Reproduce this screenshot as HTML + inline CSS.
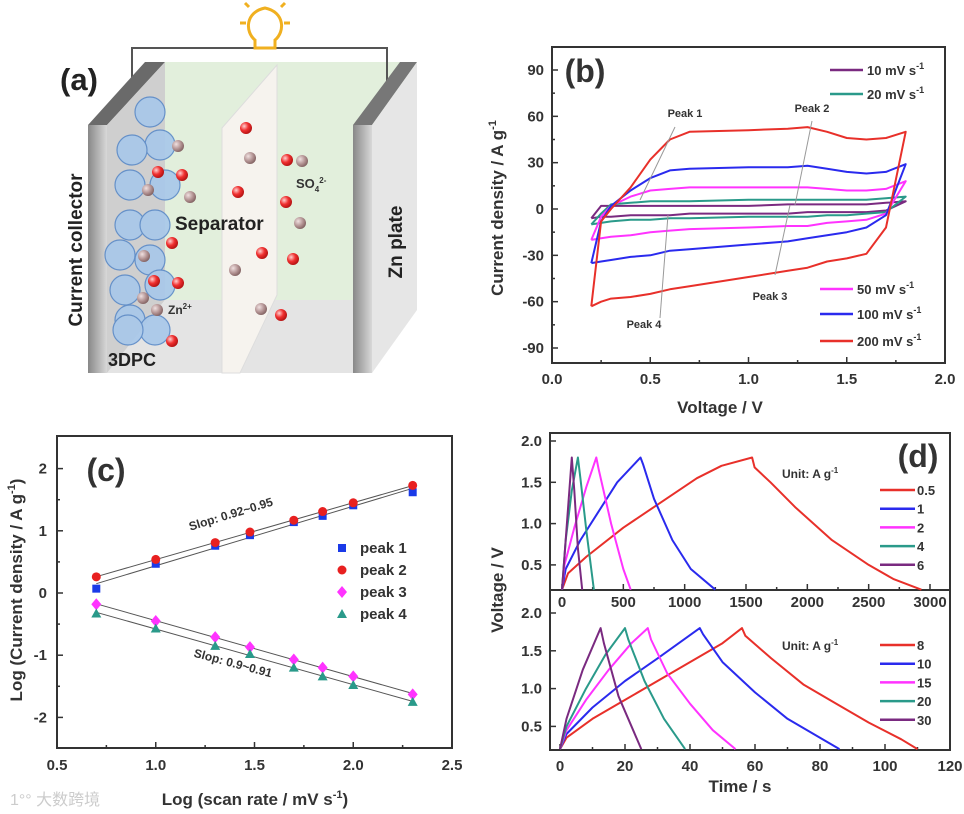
<!DOCTYPE html>
<html><head><meta charset="utf-8"><style>
html,body{margin:0;padding:0;background:#fff}
svg{display:block;font-family:"Liberation Sans","Noto Sans CJK SC",sans-serif}
.t{font-weight:bold;fill:#333}
</style></head><body>
<svg id="fig" width="964" height="814" viewBox="0 0 964 814">
<defs>
<radialGradient id="rb" cx="0.35" cy="0.35" r="0.7"><stop offset="0" stop-color="#ffd0d0"/><stop offset="0.5" stop-color="#f03030"/><stop offset="1" stop-color="#b01010"/></radialGradient>
<radialGradient id="gb" cx="0.35" cy="0.35" r="0.7"><stop offset="0" stop-color="#f0e0e0"/><stop offset="0.6" stop-color="#b09090"/><stop offset="1" stop-color="#806060"/></radialGradient>
<linearGradient id="plate" x1="0" x2="1"><stop offset="0" stop-color="#888"/><stop offset="1" stop-color="#d8d8d8"/></linearGradient>
</defs>
<g>
 <rect x="165" y="62" width="252" height="238" fill="#e2efdc"/>
 <polygon points="107,373 165,300 417,300 372,373" fill="#e4e4e4"/>
 <polyline points="132,90 132,48 387,48 387,90" fill="none" stroke="#555" stroke-width="2"/>
 <g stroke="#f0b020" stroke-width="3" fill="#fff">
  <path d="M255,48 L255,40 C245,32 245,12 265,8 C285,12 285,32 275,40 L275,48 Z"/>
  <line x1="240" y1="23" x2="246" y2="23"/><line x1="284" y1="23" x2="290" y2="23"/>
  <line x1="245" y1="3" x2="249" y2="7"/><line x1="285" y1="3" x2="281" y2="7"/>
 </g>
 <polygon points="88,125 145,62 165,62 107,125" fill="#6a6a6a"/>
 <rect x="88" y="125" width="19" height="248" fill="url(#plate)"/>
 <polygon points="107,125 165,62 165,300 107,373" fill="#cfcfcf"/>
 <polygon points="222,128 277,65 277,295 240,373 222,373" fill="#f6f3ee" stroke="#ddd"/>
 <polygon points="353,125 400,62 417,62 372,125" fill="#777"/>
 <polygon points="372,125 417,62 417,310 372,373" fill="#e6e6e6"/>
 <rect x="353" y="125" width="19" height="248" fill="url(#plate)"/>
 <g id="pc" fill="#a8c8ea" stroke="#5a8ac8" stroke-width="1.2" opacity="0.9"></g>
 <g id="ions"></g>
 <text x="60" y="90" font-size="31" font-weight="bold" fill="#222">(a)</text>
 <text transform="translate(82,250) rotate(-90)" text-anchor="middle" font-size="19" font-weight="bold" fill="#222">Current collector</text>
 <text x="175" y="230" font-size="19" font-weight="bold" fill="#222">Separator</text>
 <text transform="translate(402,242) rotate(-90)" text-anchor="middle" font-size="19" font-weight="bold" fill="#222">Zn plate</text>
 <text x="108" y="366" font-size="18" font-weight="bold" fill="#222">3DPC</text>
 <text x="168" y="314" font-size="12" font-weight="bold" fill="#333">Zn<tspan dy="-5" font-size="8">2+</tspan></text>
 <text x="296" y="188" font-size="13" font-weight="bold" fill="#333">SO<tspan dy="4" font-size="8">4</tspan><tspan dy="-9" font-size="8">2-</tspan></text>
</g>
<g id="pb"></g>
<g id="pcc"></g>
<g id="pd"></g>
<text x="10" y="805" font-size="16" fill="#ccc">1°° 大数跨境</text>
</svg>
<script>
// ---------- Panel (b) data ----------
const cvVolt=[0.2,0.25,0.3,0.4,0.5,0.6,0.7,1.0,1.2,1.3,1.4,1.5,1.6,1.7,1.8];
const cvRates=['10 mV s','20 mV s','50 mV s','100 mV s','200 mV s'];
const cvUp10=[-6,2,2,2,2,2,2,2,3,3,3,3,3,4,5];
const cvLo10=[-6,-5,-5,-4,-4,-4,-3,-3,-3,-2,-2,-2,-2,-1,5];
const cvUp20=[-10,-3,3,4,5,5,5,6,6,6,6,6,6,7,8];
const cvLo20=[-10,-9,-8,-7,-7,-6,-6,-5,-5,-5,-4,-4,-3,-2,8];
const cvUp50=[-20,-5,2,8,12,13,14,14,14,14,13,12,12,13,18];
const cvLo50=[-20,-19,-18,-17,-15,-14,-13,-12,-11,-11,-9,-8,-7,-3,18];
const cvUp100=[-35,-8,2,12,20,25,26,27,27,28,26,24,23,24,29];
const cvLo100=[-35,-34,-33,-31,-30,-27,-26,-23,-21,-19,-17,-15,-12,-4,29];
const cvUp200=[-63,-8,0,14,32,45,50,51,52,53,50,46,45,46,50];
const cvLo200=[-63,-60,-58,-57,-55,-52,-50,-44,-40,-38,-34,-32,-29,-12,50];
const bXTicks=[0,0.5,1.0,1.5,2.0];
const bYTicks=[-90,-60,-30,0,30,60,90];
// ---------- Panel (c) data ----------
const logRate=[0.699,1,1.301,1.477,1.699,1.845,2,2.301];
const peak1=[0.07,0.47,0.76,0.93,1.14,1.24,1.41,1.62];
const peak2=[0.26,0.54,0.81,0.98,1.17,1.31,1.45,1.73];
const peak3=[-0.18,-0.45,-0.71,-0.87,-1.07,-1.2,-1.34,-1.63];
const peak4=[-0.33,-0.57,-0.85,-0.98,-1.2,-1.34,-1.48,-1.75];
const cXTicks=[0.5,1.0,1.5,2.0,2.5];
const cYTicks=[-2,-1,0,1,2];
// ---------- Panel (d) data ----------
const dTopLabels=['0.5','1','2','4','6'];
const dTopT=[[0,50,200,500,800,1100,1300,1550,1570,1700,1900,2200,2500,2700,2930],[0,30,150,300,450,640,660,750,900,1050,1250],[0,20,100,200,280,300,400,500,560],[0,30,80,130,150,200,260],[0,40,80,100,130,165]];
const dTopV=[[0.2,0.4,0.6,0.95,1.25,1.55,1.7,1.8,1.68,1.5,1.2,0.8,0.5,0.33,0.2],[0.2,0.45,0.8,1.15,1.5,1.8,1.72,1.3,0.8,0.45,0.2],[0.2,0.5,0.95,1.45,1.8,1.65,1.0,0.45,0.2],[0.2,0.8,1.4,1.8,1.55,0.9,0.2],[0.2,1.0,1.8,1.4,0.7,0.2]];
const dBotLabels=['8','10','15','20','30'];
const dBotT=[[0,2,10,20,30,40,50,56,57,65,75,85,95,105,110],[0,2,10,20,30,43,44,50,60,70,80,86],[0,2,8,15,22,27,28,33,40,47,54],[0,2,8,14,20,21,26,32,38.5],[0,2,7,12.5,13.5,18,25]];
const dBotV=[[0.2,0.35,0.6,0.85,1.1,1.35,1.6,1.8,1.7,1.4,1.05,0.8,0.55,0.33,0.2],[0.2,0.4,0.75,1.1,1.4,1.8,1.72,1.35,0.95,0.6,0.35,0.2],[0.2,0.45,0.85,1.25,1.6,1.8,1.65,1.2,0.8,0.45,0.2],[0.2,0.5,1.0,1.45,1.8,1.65,1.1,0.6,0.2],[0.2,0.6,1.25,1.8,1.6,0.9,0.2]];
const dTopXTicks=[0,500,1000,1500,2000,2500,3000];
const dBotXTicks=[0,20,40,60,80,100,120];
const dYTicks=[0.5,1.0,1.5,2.0];

const NS='http://www.w3.org/2000/svg';
const COL=['#7a2a80','#2a9a8a','#ff33ff','#2a2aee','#e8302a'];
const DCOL=['#e8302a','#2a2aee','#ff33ff','#2a9a8a','#7a2a80'];
function mk(parent,tag,attrs){const e=document.createElementNS(NS,tag);for(const k in attrs)e.setAttribute(k,attrs[k]);parent.appendChild(e);return e;}
function txt(parent,x,y,s,size,anchor,name){const e=mk(parent,'text',{x:x,y:y,'font-size':size,'text-anchor':anchor||'middle','class':'t'});e.textContent=s;


return e;}
function frame(g,x0,y0,x1,y1,name){const r=mk(g,'rect',{x:x0,y:y0,width:x1-x0,height:y1-y0,fill:'none',stroke:'#333','stroke-width':2});

}
function tick(g,x1,y1,x2,y2){const l=mk(g,'line',{x1:x1,y1:y1,x2:x2,y2:y2,stroke:'#333','stroke-width':1.5});

}
function poly(g,pts,color,w,name){const p=mk(g,'polyline',{points:pts.map(p=>p[0].toFixed(1)+','+p[1].toFixed(1)).join(' '),fill:'none',stroke:color,'stroke-width':w,'stroke-linejoin':'round'});


return p;}

// ---- panel a decorations ----
(function(){
 const pc=document.getElementById('pc');
 const cs=[[150,112],[160,145],[132,150],[130,185],[165,185],[130,225],[155,225],[120,255],[150,260],[125,290],[160,285],[130,320],[155,330],[128,330]];
 cs.forEach(c=>{const e=mk(pc,'circle',{cx:c[0],cy:c[1],r:15});
  
  });
 const ions=document.getElementById('ions');
 const red=[[246,128],[158,172],[182,175],[238,192],[287,160],[286,202],[172,243],[262,253],[293,259],[154,281],[178,283],[281,315],[172,341]];
 const gry=[[178,146],[250,158],[302,161],[148,190],[190,197],[300,223],[144,256],[235,270],[143,298],[157,310],[261,309]];
 red.forEach(c=>{const e=mk(ions,'circle',{cx:c[0],cy:c[1],r:6,fill:'url(#rb)'});
  
  });
 gry.forEach(c=>{const e=mk(ions,'circle',{cx:c[0],cy:c[1],r:6,fill:'url(#gb)'});
  
  });
})();

// ---- panel b ----
(function(){
 const g=document.getElementById('pb');
 const X0=552,X1=945,Y0=47,Y1=363;
 const xs=v=>X0+v*196.5, ys=c=>209-c*(278/180);
 frame(g,X0,Y0,X1,Y1,'plot-frame-b');
 bXTicks.forEach(v=>{tick(g,xs(v),Y1,xs(v),Y1-6);txt(g,xs(v),384,v.toFixed(1),15,'middle','x-tick-label-b');});
 for(let v=0.25;v<2;v+=0.5)tick(g,xs(v),Y1,xs(v),Y1-3);
 bYTicks.forEach(c=>{tick(g,X0,ys(c),X0+6,ys(c));txt(g,X0-8,ys(c)+5,String(c),15,'end','y-tick-label-b');});
 for(let c=-75;c<=75;c+=30)tick(g,X0,ys(c),X0+3,ys(c));
 txt(g,720,413,'Voltage / V',17,'middle','x-axis-title-b');
 const yt=txt(g,0,0,'Current density / A g',17,'middle','y-axis-title-b');
 yt.setAttribute('transform','translate(503,208) rotate(-90)');
 const sp=mk(yt,'tspan',{dy:-7,'font-size':11});sp.textContent='-1';
 const ups=[cvUp10,cvUp20,cvUp50,cvUp100,cvUp200], los=[cvLo10,cvLo20,cvLo50,cvLo100,cvLo200];
 for(let s=0;s<5;s++){
  const pts=[];
  cvVolt.forEach((v,i)=>pts.push([xs(v),ys(ups[s][i])]));
  for(let i=cvVolt.length-1;i>=0;i--)pts.push([xs(cvVolt[i]),ys(los[s][i])]);
  poly(g,pts,COL[s],2,'cv-curve-'+cvRates[s].split(' ')[0]);
 }
 // annotations
 const ann=[[675,127,640,200],[660,318,668,215],[812,121,795,205],[775,275,790,205]];
 ann.forEach(a=>{const l=mk(g,'line',{x1:a[0],y1:a[1],x2:a[2],y2:a[3],stroke:'#999','stroke-width':1});
  
  });
 txt(g,685,117,'Peak 1',11,'middle','peak-1-label');
 txt(g,812,112,'Peak 2',11,'middle','peak-2-label');
 txt(g,770,300,'Peak 3',11,'middle','peak-3-label');
 txt(g,644,328,'Peak 4',11,'middle','peak-4-label');
 txt(g,585,82,'(b)',32,'middle','label-b');
 const leg=[[830,70],[830,94],[820,289],[820,314],[820,341]];
 const lab=['10 mV s','20 mV s',' 50 mV s','100 mV s','200 mV s'];
 leg.forEach((p,i)=>{const l=mk(g,'line',{x1:p[0],y1:p[1],x2:p[0]+33,y2:p[1],stroke:COL[i],'stroke-width':2.5});
  
  
  const t=txt(g,p[0]+37,p[1]+5,lab[i],13,'start','legend-entry-b');
  const s=mk(t,'tspan',{dy:-6,'font-size':9});s.textContent='-1';});
})();

// ---- panel c ----
(function(){
 const g=document.getElementById('pcc');
 const X0=57,X1=452,Y0=436,Y1=748;
 const xs=v=>X0+(v-0.5)*197.5, ys=v=>593-v*62.2;
 frame(g,X0,Y0,X1,Y1,'plot-frame-c');
 cXTicks.forEach(v=>{tick(g,xs(v),Y1,xs(v),Y1-6);txt(g,xs(v),770,v.toFixed(1),15,'middle','x-tick-label-c');});
 for(let v=0.75;v<2.5;v+=0.5)tick(g,xs(v),Y1,xs(v),Y1-3);
 cYTicks.forEach(v=>{tick(g,X0,ys(v),X0+6,ys(v));txt(g,X0-10,ys(v)+5,String(v),15,'end','y-tick-label-c');});
 for(let v=-1.5;v<2;v+=1)tick(g,X0,ys(v),X0+3,ys(v));
 const xt=txt(g,255,805,'Log (scan rate / mV s',17,'middle','x-axis-title-c');
 let s=mk(xt,'tspan',{dy:-7,'font-size':11});s.textContent='-1';
 s=mk(xt,'tspan',{dy:7});s.textContent=')';
 const yt=txt(g,0,0,'Log (Current density / A g',17,'middle','y-axis-title-c');
 yt.setAttribute('transform','translate(22,590) rotate(-90)');
 s=mk(yt,'tspan',{dy:-7,'font-size':11});s.textContent='-1';
 s=mk(yt,'tspan',{dy:7});s.textContent=')';
 const series=[peak1,peak2,peak3,peak4];
 series.forEach((ys_,k)=>{
  const n=logRate.length;let mx=0,my=0;logRate.forEach((x,i)=>{mx+=x;my+=ys_[i];});mx/=n;my/=n;
  let sxy=0,sxx=0;logRate.forEach((x,i)=>{sxy+=(x-mx)*(ys_[i]-my);sxx+=(x-mx)*(x-mx);});
  const b=sxy/sxx,a=my-b*mx;
  poly(g,[[xs(0.699),ys(a+b*0.699)],[xs(2.301),ys(a+b*2.301)]],'#555',1,'fit-line-peak-'+(k+1));
 });
 function marker(k,x,y,name){let e;
  if(k===0)e=mk(g,'rect',{x:x-4,y:y-4,width:8,height:8,fill:'#1a3ae8'});
  else if(k===1)e=mk(g,'circle',{cx:x,cy:y,r:4.5,fill:'#e82020'});
  else if(k===2)e=mk(g,'polygon',{points:`${x},${y-6} ${x+5},${y} ${x},${y+6} ${x-5},${y}`,fill:'#ff33ff'});
  else e=mk(g,'polygon',{points:`${x},${y-5} ${x+5},${y+4} ${x-5},${y+4}`,fill:'#2a9a8a'});
  
  }
 series.forEach((arr,k)=>logRate.forEach((x,i)=>marker(k,xs(x),ys(arr[i]),'point-peak-'+(k+1))));
 const t1=txt(g,0,0,'Slop: 0.92~0.95',12,'middle','slope-label-upper');
 t1.setAttribute('transform','translate(232,518) rotate(-17)');
 const t2=txt(g,0,0,'Slop: 0.9~0.91',12,'middle','slope-label-lower');
 t2.setAttribute('transform','translate(232,667) rotate(15)');
 txt(g,106,481,'(c)',32,'middle','label-c');
 ['peak 1','peak 2','peak 3','peak 4'].forEach((l,k)=>{const y=548+k*22;marker(k,342,y,'legend-marker-c');txt(g,360,y+5,l,15,'start','legend-entry-c');});
})();

// ---- panel d ----
(function(){
 const g=document.getElementById('pd');
 const X0=550,X1=950;
 frame(g,X0,433,X1,590,'plot-frame-d-top');
 frame(g,X0,590,X1,750,'plot-frame-d-bottom');
 const xt=t=>562+t*(368/3000), yt=v=>441+(2.0-v)*82.6;
 const xb=t=>560+t*3.25, yb=v=>613+(2.0-v)*75.6;
 dTopXTicks.forEach(t=>{tick(g,xt(t),590,xt(t),584);txt(g,xt(t),607,String(t),15,'middle','x-tick-label-d-top');});
 dBotXTicks.forEach(t=>{tick(g,xb(t),750,xb(t),744);txt(g,xb(t),771,String(t),15,'middle','x-tick-label-d-bottom');});
 for(let t=250;t<3000;t+=500)tick(g,xt(t),590,xt(t),587);
 for(let t=10;t<120;t+=20)tick(g,xb(t),750,xb(t),747);
 dYTicks.forEach(v=>{tick(g,X0,yt(v),X0+6,yt(v));txt(g,X0-8,yt(v)+5,v.toFixed(1),15,'end','y-tick-label-d-top');
  tick(g,X0,yb(v),X0+6,yb(v));txt(g,X0-8,yb(v)+5,v.toFixed(1),15,'end','y-tick-label-d-bottom');});
 txt(g,740,792,'Time / s',17,'middle','x-axis-title-d');
 const yl=txt(g,0,0,'Voltage / V',17,'middle','y-axis-title-d');
 yl.setAttribute('transform','translate(503,590) rotate(-90)');
 dTopT.forEach((ts,k)=>poly(g,ts.map((t,i)=>[xt(t),yt(dTopV[k][i])]),DCOL[k],2,'gcd-curve-'+dTopLabels[k]));
 dBotT.forEach((ts,k)=>poly(g,ts.map((t,i)=>[xb(t),yb(dBotV[k][i])]),DCOL[k],2,'gcd-curve-'+dBotLabels[k]));
 txt(g,918,467,'(d)',32,'middle','label-d');
 [[478,dTopLabels,490],[650,dBotLabels,645]].forEach(([uy,labs,ly0])=>{
  const u=txt(g,782,uy,'Unit: A g',12,'start','unit-label');
  const s=mk(u,'tspan',{dy:-5,'font-size':8});s.textContent='-1';
  labs.forEach((l,k)=>{const y=ly0+k*18.7;const ln=mk(g,'line',{x1:880,y1:y,x2:915,y2:y,stroke:DCOL[k],'stroke-width':2.5});
   
   
   txt(g,917,y+5,l,13,'start','legend-entry-d');});
 });
})();
</script>
</body></html>
